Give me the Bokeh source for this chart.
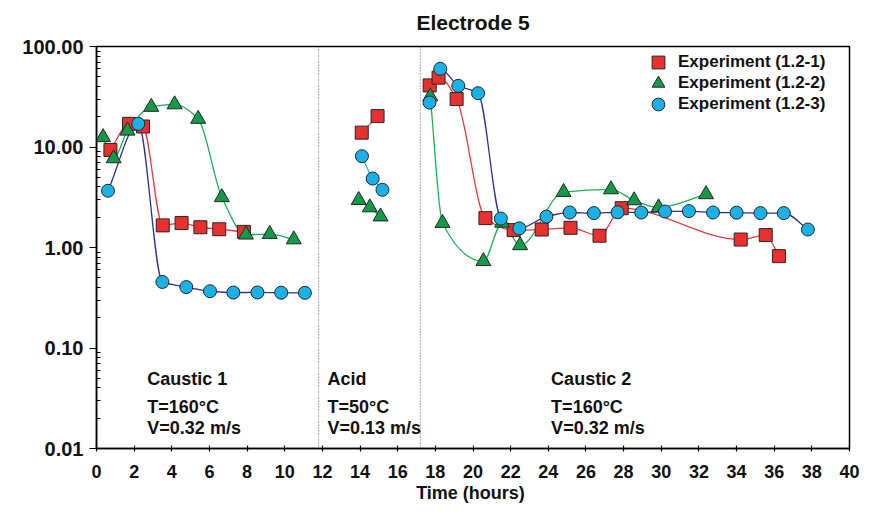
import numpy as np
from bokeh.plotting import figure
from bokeh.models import (FixedTicker, NumeralTickFormatter, Span, Label, Legend,
                          LegendItem, Range1d)
from bokeh.embed import file_html
from bokeh.resources import INLINE

# ---------------- data (time in hours, corrosion rate in mm/y) ----------------
exp1_caustic1_t = [0.74, 1.73, 2.47, 3.52, 4.52, 5.52, 6.52, 7.83]
exp1_caustic1_cr = [9.35, 17.0, 16.0, 1.66, 1.75, 1.59, 1.52, 1.43]
exp1_acid_t = [14.09, 14.93]
exp1_acid_cr = [13.9, 20.3]
exp1_caustic2_t = [17.7, 18.17, 19.13, 20.66, 22.16, 23.65, 25.18, 26.72, 27.9, 34.22, 35.55, 36.25]
exp1_caustic2_cr = [41.0, 49.0, 30.0, 1.96, 1.49, 1.51, 1.57, 1.31, 2.46, 1.20, 1.33, 0.82]

exp2_caustic1_t = [0.35, 0.91, 1.65, 2.91, 4.15, 5.4, 6.66, 7.94, 9.2, 10.48]
exp2_caustic1_cr = [12.5, 7.7, 14.5, 25.0, 26.5, 19.0, 3.16, 1.34, 1.36, 1.2]
exp2_acid_t = [13.93, 14.52, 15.09]
exp2_acid_cr = [2.96, 2.5, 2.03]
exp2_caustic2_t = [17.73, 18.38, 20.55, 21.55, 22.5, 24.81, 27.33, 28.56, 29.86, 32.38]
exp2_caustic2_cr = [31.8, 1.75, 0.73, 1.76, 1.05, 3.56, 3.78, 2.94, 2.5, 3.38]

exp3_caustic1_t = [0.61, 2.22, 3.5, 4.77, 6.03, 7.27, 8.55, 9.81, 11.07]
exp3_caustic1_cr = [3.67, 17.0, 0.454, 0.404, 0.367, 0.356, 0.357, 0.355, 0.354]
exp3_acid_t = [14.1, 14.67, 15.19]
exp3_acid_cr = [8.1, 4.85, 3.75]
exp3_caustic2_t = [17.69, 18.26, 19.22, 20.27, 21.48, 22.46, 23.9, 25.14, 26.42, 27.68,
                   28.94, 30.2, 31.47, 32.75, 34.0, 35.27, 36.51, 37.79]
exp3_caustic2_cr = [27.7, 60.0, 40.6, 34.3, 1.94, 1.55, 2.03, 2.23, 2.2, 2.24,
                    2.23, 2.28, 2.3, 2.23, 2.22, 2.2, 2.2, 1.51]

chart_title = "Electrode 5"
series_names = ["Experiment (1.2-1)", "Experiment (1.2-2)", "Experiment (1.2-3)"]
phase_names = ["Caustic 1", "Acid", "Caustic 2"]
phase_temps = ["T=160°C", "T=50°C", "T=160°C"]
phase_vels = ["V=0.32 m/s", "V=0.13 m/s", "V=0.32 m/s"]
phase_bounds = [11.8, 17.2]

x_ticks = list(range(0, 41, 2))
y_ticks = [0.01, 0.1, 1, 10, 100]

FONT = "Liberation Sans"
TXT = "#111111"

# frame: left 96, right 849, top 46, bottom 448 (canvas px)
p = figure(width=860, height=505, output_backend="svg", toolbar_location=None,
           y_axis_type="log", x_range=Range1d(0, 40), y_range=Range1d(0.01, 100),
           min_border_left=96, min_border_right=11, min_border_top=46, min_border_bottom=57)

p.title.text = chart_title
p.title.align = "center"
p.title.vertical_align = "top"
p.title.text_font = FONT
p.title.text_font_size = "21px"
p.title.text_font_style = "bold"
p.title.text_color = TXT
p.title.standoff = 21

p.grid.visible = False
p.outline_line_color = "black"
p.outline_line_width = 1.5
p.background_fill_color = "white"
p.border_fill_color = "white"

# axes
xa = p.xaxis[0]
xa.ticker = FixedTicker(ticks=x_ticks)
xa.axis_label = "Time  (hours)"
xa.axis_label_text_font = FONT
xa.axis_label_text_font_size = "18px"
xa.axis_label_text_font_style = "bold"
xa.axis_label_text_color = TXT
xa.axis_label_standoff = 2
xa.major_label_text_font = FONT
xa.major_label_text_font_size = "18px"
xa.major_label_text_font_style = "bold"
xa.major_label_text_color = TXT
xa.major_label_standoff = 13
xa.major_tick_in = 3
xa.major_tick_out = 3
xa.minor_tick_line_color = None
xa.axis_line_width = 1.5
xa.major_tick_line_width = 1.2

ya = p.yaxis[0]
minor = [k * 10.0 ** d for d in range(-2, 2) for k in range(2, 10)]
ya.ticker = FixedTicker(ticks=y_ticks, minor_ticks=minor)
ya.formatter = NumeralTickFormatter(format="0.00")
ya.major_label_text_font = FONT
ya.major_label_text_font_size = "20px"
ya.major_label_text_font_style = "bold"
ya.major_label_text_color = TXT
ya.major_label_standoff = 6
ya.major_tick_in = 0
ya.major_tick_out = 7
ya.minor_tick_in = 4
ya.minor_tick_out = 0
ya.axis_line_width = 1.5
ya.major_tick_line_width = 1.2

# phase boundaries
for b in phase_bounds:
    p.add_layout(Span(location=b, dimension="height", line_color="#555555",
                      line_width=1, line_dash="1 2"))


def smooth(t, cr):
    """Monotone cubic (Bezier) segments between consecutive measured points,
    built in (t, log10 CR) space so that no segment overshoots a measurement."""
    x = np.asarray(t, float)
    y = np.log10(np.asarray(cr, float))
    n = len(x)
    h = np.diff(x)
    dl = np.diff(y) / h
    m = np.zeros(n)
    if n == 2:
        m[:] = dl[0]
    else:
        m[0] = dl[0]
        m[-1] = dl[-1]
        for k in range(1, n - 1):
            if dl[k - 1] * dl[k] <= 0:
                m[k] = 0.0
            else:
                w1 = 2 * h[k] + h[k - 1]
                w2 = h[k] + 2 * h[k - 1]
                m[k] = (w1 + w2) / (w1 / dl[k - 1] + w2 / dl[k])
    out = {k: [] for k in ("x0", "y0", "x1", "y1", "cx0", "cy0", "cx1", "cy1")}
    for i in range(n - 1):
        out["x0"].append(x[i]); out["y0"].append(10 ** y[i])
        out["x1"].append(x[i + 1]); out["y1"].append(10 ** y[i + 1])
        out["cx0"].append(x[i] + h[i] / 3); out["cy0"].append(10 ** (y[i] + m[i] * h[i] / 3))
        out["cx1"].append(x[i + 1] - h[i] / 3); out["cy1"].append(10 ** (y[i + 1] - m[i + 1] * h[i] / 3))
    return out


RED_L, GRN_L, BLU_L, CYA_L = "#e8393c", "#1fae55", "#2e3192", "#33b5e5"
RED_F, GRN_F, CYA_F = "#e8312f", "#139a48", "#1ab2e6"
EDGE = "#262626"

segments = [
    (exp1_caustic1_t, exp1_caustic1_cr, RED_L),
    (exp1_acid_t, exp1_acid_cr, RED_L),
    (exp1_caustic2_t, exp1_caustic2_cr, RED_L),
    (exp2_caustic1_t, exp2_caustic1_cr, GRN_L),
    (exp2_acid_t, exp2_acid_cr, GRN_L),
    (exp2_caustic2_t, exp2_caustic2_cr, GRN_L),
    (exp3_caustic1_t, exp3_caustic1_cr, BLU_L),
    (exp3_acid_t, exp3_acid_cr, CYA_L),
    (exp3_caustic2_t, exp3_caustic2_cr, BLU_L),
]
for t, cr, col in segments:
    s = smooth(t, cr)
    p.bezier(x0=s["x0"], y0=s["y0"], x1=s["x1"], y1=s["y1"],
             cx0=s["cx0"], cy0=s["cy0"], cx1=s["cx1"], cy1=s["cy1"],
             line_color=col, line_width=1.3)

legend_rs = [[], [], []]
for t, cr in [(exp1_caustic1_t, exp1_caustic1_cr), (exp1_acid_t, exp1_acid_cr),
              (exp1_caustic2_t, exp1_caustic2_cr)]:
    legend_rs[0].append(p.scatter(t, cr, marker="square", size=13, fill_color=RED_F,
                                  line_color=EDGE, line_width=1))
for t, cr in [(exp2_caustic1_t, exp2_caustic1_cr), (exp2_acid_t, exp2_acid_cr),
              (exp2_caustic2_t, exp2_caustic2_cr)]:
    legend_rs[1].append(p.scatter(t, cr, marker="triangle", size=15, fill_color=GRN_F,
                                  line_color=EDGE, line_width=1))
for t, cr in [(exp3_caustic1_t, exp3_caustic1_cr), (exp3_acid_t, exp3_acid_cr),
              (exp3_caustic2_t, exp3_caustic2_cr)]:
    legend_rs[2].append(p.scatter(t, cr, marker="circle", size=13, fill_color=CYA_F,
                                  line_color=EDGE, line_width=1))

# one single-item legend per series, stacked ~21 px apart
legend_y = [370, 349, 328]
for i in range(3):
    lg = Legend(items=[LegendItem(label=series_names[i], renderers=[legend_rs[i][0]])],
                location=(546, legend_y[i]), orientation="vertical",
                glyph_width=32, glyph_height=32, spacing=0, padding=0, margin=0,
                label_standoff=4, label_height=20,
                label_text_font=FONT, label_text_font_size="17px",
                label_text_font_style="bold", label_text_color=TXT,
                background_fill_alpha=0, border_line_color=None)
    p.add_layout(lg)

# phase annotations
phase_x = [2.7, 12.27, 24.15]
row_y = [0.0493, 0.0259, 0.0159]
for i in range(3):
    for txt, yy in zip([phase_names[i], phase_temps[i], phase_vels[i]], row_y):
        p.add_layout(Label(x=phase_x[i], y=yy, text=txt, text_align="left",
                           text_baseline="middle", text_font=FONT,
                           text_font_size="18px", text_font_style="bold",
                           text_color=TXT))

# y axis label  C_R (mm/y)
p.add_layout(Label(x=-3.72, y=0.3615, text="C", angle=np.pi / 2, text_align="left",
                   text_baseline="middle", text_font=FONT, text_font_size="20px",
                   text_font_style="bold", text_color=TXT))
p.add_layout(Label(x=-3.50, y=0.526, text="R", angle=np.pi / 2, text_align="left",
                   text_baseline="middle", text_font=FONT, text_font_size="13px",
                   text_font_style="bold", text_color=TXT))
p.add_layout(Label(x=-3.72, y=0.767, text="(mm/y)", angle=np.pi / 2, text_align="left",
                   text_baseline="middle", text_font=FONT, text_font_size="20px",
                   text_font_style="bold", text_color=TXT))

open("out.html", "w").write(file_html(p, INLINE))
